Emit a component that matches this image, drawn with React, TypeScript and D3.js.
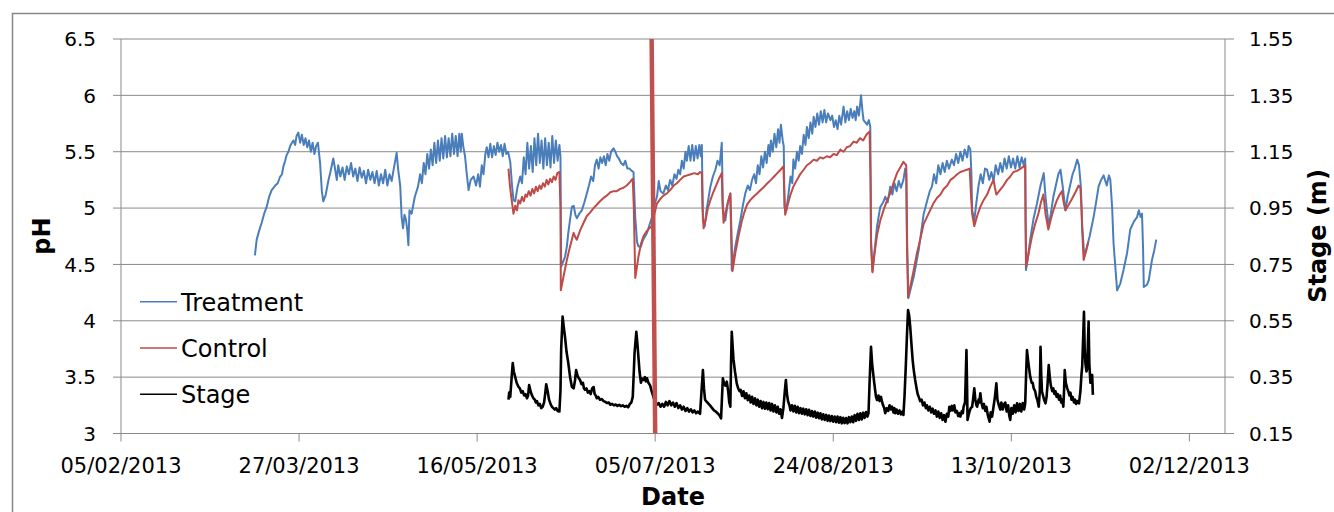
import React from 'react';
import * as d3 from 'd3';

// [day of year 2013, value]
type Pt = [number, number];

const treatment: Pt[] = [
  [73.6,4.58],[74.1,4.72],[74.8,4.8],[75.5,4.87],[76.2,4.95],[76.9,5.01],[77.6,5.1],[78.3,5.16],[79.3,5.2],[80.0,5.22],
  [80.7,5.28],[81.2,5.3],[81.6,5.37],[82.1,5.42],[82.5,5.47],[83.0,5.5],[83.5,5.55],[84.0,5.58],[84.4,5.6],[84.9,5.56],
  [85.3,5.64],[85.8,5.67],[86.3,5.58],[86.8,5.65],[87.3,5.56],[87.8,5.62],[88.3,5.54],[88.8,5.6],[89.3,5.5],[89.8,5.58],
  [90.3,5.48],[90.8,5.55],[91.3,5.58],[91.9,5.4],[92.4,5.15],[92.8,5.06],[93.5,5.12],[94.2,5.24],[94.8,5.32],[95.6,5.44],
  [96.1,5.35],[96.6,5.25],[97.0,5.38],[97.6,5.28],[98.2,5.36],[98.8,5.25],[99.4,5.37],[100.0,5.3],[100.6,5.4],[101.2,5.28],
  [101.8,5.35],[102.4,5.24],[103.0,5.36],[103.6,5.27],[104.2,5.33],[104.8,5.22],[105.4,5.34],[106.0,5.25],[106.6,5.32],[107.2,5.22],
  [107.8,5.33],[108.4,5.2],[109.0,5.3],[109.6,5.22],[110.2,5.34],[110.8,5.2],[111.4,5.3],[112.0,5.24],[112.6,5.35],[113.4,5.49],
  [113.8,5.35],[114.4,5.2],[114.8,4.92],[115.2,4.82],[115.6,4.94],[116.0,4.9],[116.4,4.8],[116.7,4.67],[117.0,4.98],[117.6,4.95],
  [118.5,5.1],[119.4,5.19],[120.0,5.3],[120.5,5.22],[121.0,5.4],[121.5,5.3],[122.0,5.48],[122.5,5.35],[123.0,5.52],[123.5,5.38],
  [124.0,5.58],[124.5,5.4],[125.0,5.6],[125.5,5.42],[126.0,5.62],[126.5,5.44],[127.0,5.64],[127.5,5.45],[128.0,5.62],[128.5,5.46],
  [129.0,5.66],[129.5,5.48],[130.0,5.64],[130.5,5.46],[131.0,5.66],[131.4,5.5],[131.7,5.66],[132.1,5.55],[132.6,5.46],[133.1,5.3],
  [133.6,5.16],[134.2,5.25],[135.0,5.28],[135.7,5.2],[136.3,5.3],[136.8,5.19],[137.3,5.38],[137.8,5.3],[138.3,5.48],[138.7,5.54],
  [139.2,5.45],[139.7,5.57],[140.2,5.45],[140.7,5.55],[141.2,5.47],[141.7,5.58],[142.2,5.5],[142.7,5.56],[143.2,5.46],[143.7,5.57],
  [144.2,5.48],[144.7,5.5],[145.3,5.41],[145.8,5.2],[146.2,5.07],[146.7,5.06],[147.3,5.18],[148.1,5.28],[148.6,5.22],[149.1,5.45],
  [149.6,5.3],[150.1,5.58],[150.6,5.35],[151.1,5.55],[151.6,5.32],[152.1,5.62],[152.6,5.38],[153.1,5.66],[153.6,5.4],[154.1,5.6],
  [154.6,5.35],[155.1,5.62],[155.6,5.38],[156.1,5.58],[156.6,5.36],[157.1,5.64],[157.6,5.4],[158.1,5.6],[158.6,5.42],[159.1,5.56],
  [159.4,5.46],[159.6,4.48],[160.1,4.52],[160.7,4.57],[161.2,4.66],[161.6,4.78],[162.1,4.9],[162.6,5.01],[163.1,5.02],[163.6,4.94],
  [164.0,4.91],[164.7,4.95],[165.4,4.98],[166.1,5.05],[166.8,5.13],[167.4,5.2],[168.0,5.28],[168.6,5.24],[169.1,5.38],[169.6,5.43],
  [170.1,5.35],[170.6,5.45],[171.1,5.4],[171.6,5.46],[172.1,5.38],[172.6,5.48],[173.1,5.42],[173.6,5.5],[174.3,5.53],[174.8,5.5],
  [175.3,5.46],[175.8,5.44],[176.4,5.4],[177.1,5.38],[177.6,5.42],[178.2,5.35],[178.8,5.35],[179.4,5.33],[179.9,5.32],[180.4,4.92],
  [180.9,4.7],[181.3,4.66],[182.0,4.66],[182.6,4.72],[183.2,4.75],[183.7,4.78],[184.4,4.85],[185.1,4.92],[186.0,5.05],[186.5,5.1],
  [187.0,5.24],[187.5,5.15],[188.3,5.13],[189.0,5.2],[189.6,5.16],[190.2,5.25],[190.8,5.2],[191.4,5.3],[192.0,5.26],[192.5,5.34],
  [193.0,5.3],[193.5,5.42],[194.0,5.35],[194.5,5.5],[194.9,5.42],[195.4,5.55],[195.9,5.42],[196.4,5.56],[196.9,5.42],[197.4,5.55],
  [197.9,5.44],[198.4,5.56],[198.8,5.46],[199.1,5.56],[199.4,4.89],[199.9,4.84],[200.5,5.0],[201.5,5.19],[202.2,5.28],[202.9,5.34],
  [203.5,5.42],[204.1,5.38],[204.7,5.58],[205.0,5.01],[205.4,4.92],[205.7,4.89],[206.4,5.05],[207.1,5.13],[207.3,4.8],[207.5,4.45],
  [208.0,4.55],[208.5,4.66],[209.2,4.78],[209.9,4.89],[210.6,5.02],[211.3,5.13],[212.0,5.2],[212.6,5.16],[213.2,5.25],[213.8,5.3],
  [214.3,5.22],[214.8,5.38],[215.3,5.3],[215.8,5.46],[216.3,5.36],[216.8,5.5],[217.3,5.4],[217.8,5.56],[218.2,5.46],[218.5,5.6],
  [219.0,5.5],[219.5,5.66],[220.0,5.54],[220.5,5.7],[220.9,5.58],[221.3,5.74],[221.8,5.6],[222.1,5.55],[222.3,5.01],[222.8,4.98],
  [223.4,5.12],[224.0,5.28],[224.5,5.22],[224.8,5.43],[225.3,5.35],[225.8,5.5],[226.3,5.42],[226.7,5.55],[227.2,5.48],[227.7,5.65],
  [228.2,5.56],[228.6,5.72],[229.1,5.62],[229.6,5.76],[230.1,5.66],[230.5,5.81],[231.0,5.72],[231.5,5.84],[232.0,5.74],[232.5,5.86],
  [233.0,5.76],[233.5,5.87],[234.0,5.76],[234.5,5.84],[235.2,5.78],[235.7,5.82],[236.2,5.72],[236.7,5.78],[237.2,5.7],[237.7,5.82],
  [238.2,5.74],[238.9,5.9],[239.4,5.76],[239.9,5.86],[240.4,5.78],[240.9,5.88],[241.4,5.8],[241.9,5.86],[242.3,5.78],[242.7,5.9],
  [243.2,5.82],[243.8,6.0],[244.2,5.86],[244.5,5.78],[245.0,5.76],[245.5,5.74],[246.0,5.78],[246.4,5.72],[246.6,4.72],[247.0,4.44],
  [247.6,4.62],[248.3,4.84],[249.2,5.01],[250.0,5.05],[250.6,5.1],[251.3,5.05],[252.0,5.19],[252.6,5.12],[253.2,5.22],[253.8,5.15],
  [254.4,5.24],[255.0,5.18],[255.7,5.25],[256.2,5.35],[256.5,5.3],[256.7,4.66],[257.1,4.2],[257.7,4.28],[258.6,4.39],[260.0,4.63],
  [261.4,4.95],[262.5,5.08],[263.1,5.15],[263.7,5.19],[264.3,5.3],[264.9,5.22],[265.5,5.38],[266.1,5.3],[266.7,5.4],[267.3,5.32],
  [267.9,5.42],[268.5,5.35],[269.3,5.43],[269.9,5.38],[270.5,5.48],[271.1,5.4],[271.7,5.5],[272.3,5.42],[272.9,5.52],[273.6,5.45],
  [274.0,5.55],[274.5,5.52],[274.8,5.3],[275.0,4.98],[275.6,4.89],[276.2,5.05],[276.8,5.2],[277.4,5.3],[278.0,5.22],[278.6,5.35],
  [279.2,5.34],[279.8,5.25],[280.4,5.32],[281.0,5.24],[281.6,5.38],[282.3,5.3],[282.9,5.4],[283.5,5.32],[284.1,5.44],[284.7,5.35],
  [285.3,5.46],[285.9,5.36],[286.5,5.44],[287.1,5.35],[287.7,5.46],[288.3,5.36],[288.9,5.45],[289.5,5.38],[289.9,5.44],[290.1,4.45],
  [290.6,4.55],[291.3,4.72],[292.2,4.9],[293.2,5.04],[294.2,5.2],[295.1,5.31],[295.6,5.1],[296.5,4.84],[297.1,4.95],[297.8,5.1],
  [298.5,5.2],[299.2,5.3],[299.8,5.34],[300.4,5.2],[301.2,4.98],[301.8,5.1],[302.5,5.2],[303.2,5.3],[303.8,5.35],[304.5,5.43],
  [305.0,5.38],[305.5,5.2],[305.9,4.84],[306.5,4.57],[307.2,4.65],[308.0,4.75],[309.1,4.92],[309.8,5.05],[310.5,5.19],[311.2,5.25],
  [311.9,5.29],[312.8,5.2],[313.4,5.29],[313.8,5.25],[314.3,5.01],[314.7,4.69],[315.2,4.48],[315.7,4.27],[316.6,4.33],[317.5,4.45],
  [318.5,4.6],[319.4,4.81],[320.4,4.88],[321.3,4.92],[321.8,4.98],[322.3,4.92],[322.7,4.95],[323.0,4.63],[323.2,4.3],[324.1,4.32],
  [324.6,4.36],[325.5,4.54],[326.1,4.62],[326.7,4.72],
];

const control: Pt[] = [
  [144.8,5.35],[145.2,5.2],[145.7,5.07],[146.2,4.95],[146.7,5.02],[147.2,4.98],[147.6,5.07],[148.1,5.04],[148.6,5.1],[149.1,5.06],
  [149.6,5.12],[150.0,5.1],[150.5,5.15],[151.0,5.11],[151.5,5.17],[152.0,5.13],[152.5,5.19],[153.0,5.15],[153.5,5.2],[154.0,5.17],
  [154.5,5.22],[155.0,5.19],[155.5,5.25],[156.0,5.21],[156.5,5.26],[157.0,5.23],[157.5,5.28],[158.0,5.25],[158.5,5.31],[159.1,5.32],
  [159.4,5.0],[159.5,4.27],[160.3,4.4],[161.2,4.54],[162.1,4.66],[163.1,4.78],[163.6,4.74],[164.0,4.72],[164.9,4.8],[165.9,4.87],
  [166.8,4.93],[167.7,4.96],[168.7,5.0],[169.6,5.03],[170.5,5.06],[171.5,5.09],[172.4,5.11],[173.4,5.14],[174.3,5.15],[175.2,5.15],
  [176.2,5.17],[177.1,5.18],[178.0,5.2],[178.9,5.23],[179.7,5.26],[180.0,5.0],[180.4,4.38],[180.8,4.46],[181.3,4.57],[182.0,4.68],
  [182.7,4.75],[183.5,4.79],[184.3,4.82],[185.1,4.84],[185.8,4.95],[186.5,5.04],[187.4,5.08],[188.3,5.11],[189.3,5.13],[190.2,5.16],
  [191.2,5.2],[192.1,5.22],[193.0,5.25],[194.0,5.28],[195.0,5.29],[196.0,5.3],[197.0,5.31],[198.0,5.3],[198.6,5.32],[199.1,5.31],
  [199.3,5.0],[199.6,4.82],[200.2,4.9],[200.8,5.0],[201.5,5.07],[202.3,5.14],[203.1,5.2],[203.9,5.26],[204.7,5.31],[204.9,5.05],
  [205.2,4.87],[205.9,4.98],[206.5,5.06],[207.1,5.13],[207.4,4.8],[207.7,4.44],[208.5,4.6],[209.4,4.75],[210.3,4.88],[211.0,4.96],
  [211.8,5.03],[212.7,5.07],[213.6,5.1],[214.6,5.13],[215.6,5.16],[216.6,5.19],[217.5,5.22],[218.5,5.25],[219.4,5.28],[220.3,5.31],
  [221.2,5.34],[222.0,5.37],[222.3,5.1],[222.5,4.94],[223.3,5.04],[224.0,5.12],[224.8,5.19],[225.8,5.25],[226.7,5.3],[227.7,5.34],
  [228.6,5.38],[229.5,5.4],[230.5,5.43],[231.4,5.42],[232.3,5.45],[233.2,5.44],[234.2,5.46],[235.1,5.45],[236.1,5.48],[237.0,5.47],
  [238.0,5.52],[238.9,5.5],[239.8,5.54],[240.7,5.55],[241.7,5.59],[242.6,5.58],[243.5,5.62],[244.4,5.6],[245.3,5.65],[246.2,5.68],
  [246.5,5.2],[246.6,4.69],[247.0,4.43],[247.6,4.6],[248.3,4.76],[249.2,4.89],[250.1,4.98],[251.0,5.06],[252.0,5.13],[252.9,5.22],
  [253.9,5.31],[254.8,5.36],[255.7,5.41],[256.5,5.38],[256.7,4.8],[257.0,4.21],[257.8,4.33],[258.6,4.45],[259.5,4.6],[260.4,4.72],
  [261.4,4.86],[262.3,4.92],[263.2,4.98],[264.1,5.04],[265.1,5.09],[266.1,5.12],[267.0,5.17],[268.0,5.2],[268.9,5.25],[269.8,5.27],
  [270.8,5.3],[271.7,5.32],[272.6,5.33],[273.5,5.34],[274.3,5.35],[274.7,5.1],[275.0,4.95],[275.6,4.84],[276.4,4.93],[277.3,5.01],
  [278.2,5.07],[279.2,5.12],[280.1,5.19],[281.0,5.25],[281.4,5.18],[281.8,5.12],[282.8,5.16],[283.8,5.2],[284.8,5.25],[285.7,5.28],
  [286.6,5.32],[287.6,5.33],[288.6,5.35],[289.5,5.37],[289.9,5.38],[290.0,4.9],[290.2,4.48],[291.0,4.62],[291.8,4.75],[292.7,4.86],
  [293.6,4.95],[294.3,5.05],[295.0,5.12],[295.6,4.95],[296.4,4.81],[297.1,4.9],[297.8,4.98],[298.8,5.07],[299.6,5.12],[300.2,5.15],
  [300.7,5.05],[301.2,4.98],[302.1,5.03],[303.0,5.08],[304.0,5.14],[304.9,5.2],[305.4,5.18],[305.7,5.0],[305.9,4.81],[306.3,4.54],
  [307.0,4.62],[307.6,4.7],
];

const stage: Pt[] = [
  [144.8,0.27],[145.0,0.295],[145.3,0.28],[145.7,0.35],[146.0,0.4],[146.3,0.37],[146.7,0.35],[147.1,0.33],[147.6,0.316],[148.0,0.31],
  [148.4,0.295],[148.8,0.3],[149.2,0.285],[149.6,0.29],[150.0,0.275],[150.3,0.285],[150.6,0.322],[151.0,0.3],[151.4,0.285],[151.8,0.275],
  [152.2,0.27],[152.5,0.26],[152.8,0.265],[153.2,0.25],[153.6,0.255],[154.0,0.24],[154.4,0.245],[154.8,0.26],[155.1,0.29],[155.4,0.325],
  [155.8,0.3],[156.2,0.27],[156.6,0.255],[157.0,0.245],[157.4,0.24],[157.8,0.235],[158.2,0.24],[158.6,0.23],[159.1,0.228],[159.4,0.3],
  [159.6,0.45],[160.0,0.565],[160.4,0.52],[160.7,0.49],[161.1,0.44],[161.6,0.4],[162.1,0.35],[162.6,0.316],[163.1,0.31],[163.5,0.34],
  [163.8,0.375],[164.2,0.355],[164.6,0.345],[164.9,0.34],[165.3,0.325],[165.7,0.33],[166.0,0.31],[166.3,0.305],[166.7,0.31],[167.1,0.295],
  [167.5,0.3],[167.9,0.29],[168.3,0.31],[168.7,0.315],[169.0,0.29],[169.3,0.285],[169.6,0.275],[170.0,0.28],[170.5,0.27],[171.0,0.272],
  [171.5,0.265],[172.0,0.262],[172.5,0.258],[173.0,0.26],[173.4,0.252],[173.9,0.255],[174.4,0.25],[174.9,0.253],[175.4,0.248],[175.9,0.252],
  [176.4,0.247],[176.9,0.25],[177.4,0.245],[177.9,0.248],[178.4,0.243],[178.9,0.255],[179.3,0.26],[179.7,0.28],[180.0,0.37],[180.2,0.435],
  [180.7,0.511],[181.0,0.47],[181.3,0.42],[181.6,0.37],[182.0,0.33],[182.3,0.345],[182.7,0.34],[183.1,0.35],[183.4,0.335],[183.7,0.346],
  [184.1,0.33],[184.6,0.32],[185.0,0.3],[185.5,0.28],[186.0,0.26],[186.5,0.252],[187.0,0.258],[187.5,0.245],[188.0,0.255],[188.5,0.245],
  [189.0,0.262],[189.5,0.25],[190.0,0.265],[190.5,0.25],[191.0,0.26],[191.5,0.245],[192.0,0.258],[192.5,0.24],[193.0,0.25],[193.5,0.235],
  [194.0,0.245],[194.5,0.23],[195.0,0.24],[195.5,0.228],[196.0,0.236],[196.5,0.225],[197.0,0.232],[197.5,0.222],[198.0,0.228],[198.6,0.22],
  [199.0,0.3],[199.4,0.375],[199.7,0.31],[200.0,0.27],[200.5,0.262],[201.0,0.255],[201.5,0.248],[202.0,0.24],[202.5,0.232],[203.0,0.228],
  [203.5,0.222],[204.0,0.215],[204.5,0.204],[204.8,0.29],[205.0,0.346],[205.3,0.33],[205.7,0.32],[206.1,0.334],[206.5,0.3],[206.8,0.26],
  [207.1,0.245],[207.3,0.4],[207.5,0.511],[207.8,0.45],[208.0,0.411],[208.4,0.37],[208.9,0.328],[209.3,0.31],[209.7,0.3],[210.0,0.305],
  [210.4,0.283],[210.8,0.3],[211.2,0.275],[211.6,0.293],[212.0,0.268],[212.4,0.285],[212.8,0.26],[213.2,0.28],[213.6,0.255],[214.0,0.275],
  [214.4,0.25],[214.8,0.27],[215.2,0.245],[215.6,0.265],[216.0,0.24],[216.4,0.262],[216.8,0.238],[217.2,0.26],[217.6,0.236],[218.0,0.258],
  [218.4,0.232],[218.8,0.255],[219.2,0.228],[219.6,0.25],[220.0,0.225],[220.4,0.245],[220.8,0.22],[221.2,0.236],[221.6,0.205],[222.0,0.24],
  [222.4,0.3],[222.7,0.34],[223.0,0.29],[223.3,0.265],[223.7,0.25],[224.0,0.232],[224.4,0.25],[224.8,0.228],[225.2,0.248],[225.6,0.225],
  [226.0,0.245],[226.4,0.222],[226.8,0.24],[227.2,0.22],[227.6,0.238],[228.0,0.218],[228.4,0.236],[228.8,0.215],[229.2,0.234],[229.6,0.212],
  [230.0,0.23],[230.4,0.21],[230.8,0.228],[231.2,0.206],[231.6,0.224],[232.0,0.204],[232.4,0.222],[232.8,0.2],[233.2,0.218],[233.6,0.198],
  [234.0,0.216],[234.4,0.195],[234.8,0.214],[235.2,0.194],[235.6,0.212],[236.0,0.192],[236.4,0.21],[236.8,0.19],[237.2,0.21],[237.6,0.188],
  [238.0,0.208],[238.4,0.186],[238.8,0.206],[239.2,0.187],[239.6,0.205],[240.0,0.186],[240.4,0.208],[240.8,0.19],[241.2,0.21],[241.6,0.19],
  [242.0,0.215],[242.4,0.195],[242.8,0.22],[243.2,0.198],[243.6,0.222],[244.0,0.2],[244.4,0.224],[244.8,0.205],[245.2,0.226],[245.6,0.21],
  [245.9,0.222],[246.2,0.33],[246.6,0.458],[246.9,0.4],[247.3,0.352],[247.7,0.31],[248.0,0.28],[248.3,0.269],[248.7,0.285],[249.0,0.265],
  [249.4,0.28],[249.7,0.262],[250.0,0.25],[250.3,0.24],[250.6,0.222],[251.0,0.24],[251.4,0.23],[251.8,0.25],[252.1,0.235],[252.5,0.245],
  [252.9,0.225],[253.2,0.24],[253.4,0.222],[253.8,0.235],[254.2,0.22],[254.6,0.232],[255.0,0.218],[255.4,0.228],[255.7,0.216],[256.0,0.28],
  [256.4,0.399],[256.7,0.5],[257.0,0.588],[257.3,0.57],[257.6,0.53],[258.0,0.46],[258.3,0.41],[258.6,0.375],[259.0,0.34],[259.4,0.31],
  [259.7,0.29],[260.0,0.28],[260.4,0.265],[260.8,0.27],[261.2,0.25],[261.6,0.26],[262.0,0.24],[262.3,0.25],[262.7,0.232],[263.1,0.245],
  [263.5,0.225],[263.9,0.238],[264.3,0.22],[264.7,0.232],[265.1,0.21],[265.5,0.228],[265.9,0.205],[266.3,0.222],[266.7,0.198],[267.1,0.215],
  [267.5,0.192],[267.9,0.22],[268.3,0.21],[268.6,0.245],[268.9,0.23],[269.3,0.248],[269.6,0.232],[270.0,0.25],[270.3,0.225],[270.7,0.23],
  [271.1,0.212],[271.4,0.222],[271.7,0.21],[272.1,0.23],[272.4,0.222],[272.6,0.245],[273.0,0.26],[273.2,0.35],[273.4,0.446],[273.6,0.3],
  [273.7,0.198],[274.0,0.215],[274.3,0.23],[274.6,0.24],[275.0,0.245],[275.3,0.275],[275.6,0.31],[275.9,0.27],[276.2,0.25],[276.4,0.245],
  [276.8,0.27],[277.0,0.26],[277.3,0.293],[277.6,0.26],[278.0,0.24],[278.3,0.255],[278.7,0.23],[279.0,0.245],[279.4,0.215],[279.9,0.192],
  [280.2,0.225],[280.6,0.21],[281.0,0.245],[281.4,0.28],[281.8,0.328],[282.1,0.27],[282.5,0.25],[282.9,0.235],[283.2,0.26],[283.6,0.235],
  [284.0,0.255],[284.3,0.26],[284.7,0.228],[285.1,0.25],[285.4,0.215],[285.7,0.198],[286.0,0.24],[286.4,0.22],[286.8,0.25],[287.2,0.225],
  [287.6,0.257],[288.0,0.23],[288.4,0.255],[288.8,0.228],[289.2,0.258],[289.6,0.235],[289.9,0.257],[290.2,0.38],[290.4,0.446],[290.7,0.41],
  [291.0,0.38],[291.3,0.352],[291.7,0.33],[292.0,0.33],[292.3,0.31],[292.7,0.3],[293.0,0.28],[293.3,0.27],[293.7,0.245],[294.0,0.3],
  [294.2,0.458],[294.4,0.36],[294.6,0.3],[294.9,0.285],[295.2,0.27],[295.6,0.257],[295.9,0.28],[296.2,0.33],[296.5,0.393],[296.8,0.35],
  [297.1,0.32],[297.5,0.3],[297.8,0.31],[298.1,0.29],[298.4,0.3],[298.7,0.28],[299.0,0.29],[299.4,0.27],[299.7,0.285],[300.0,0.26],
  [300.3,0.27],[300.6,0.245],[300.8,0.3],[301.0,0.375],[301.3,0.33],[301.7,0.31],[302.0,0.3],[302.3,0.285],[302.6,0.295],[302.9,0.27],
  [303.2,0.28],[303.6,0.26],[303.9,0.27],[304.2,0.255],[304.6,0.265],[305.0,0.257],[305.4,0.3],[305.7,0.36],[305.9,0.387],[306.2,0.5],
  [306.4,0.582],[306.6,0.45],[306.8,0.4],[307.1,0.37],[307.3,0.38],[307.5,0.47],[307.7,0.547],[307.9,0.4],[308.2,0.33],[308.5,0.35],
  [308.7,0.358],[308.9,0.287],
];

// vertical red marker line
const marker: Pt[] = [[185.0, 6.5], [186.0, 3.0]];

const xTickDates = ['2013-02-05', '2013-03-27', '2013-05-16', '2013-07-05', '2013-08-24', '2013-10-13', '2013-12-02'];
const xDomainDates = ['2013-02-05', '2013-12-12'];
const phTicks = [3, 3.5, 4, 4.5, 5, 5.5, 6, 6.5];
const stageTicks = [0.15, 0.35, 0.55, 0.75, 0.95, 1.15, 1.35, 1.55];

const legendItems = [
  { name: 'Treatment', color: '#4a7ebb' },
  { name: 'Control', color: '#be4b48' },
  { name: 'Stage', color: '#000000' },
];

const W = 1334;
const H = 512;
const plot = { left: 121, right: 1225, top: 39, bottom: 433.5 };
const FONT = '"DejaVu Sans", sans-serif';
const GRID = '#8a8a8a';

const parse = d3.timeParse('%Y-%m-%d');
const fmt = d3.timeFormat('%d/%m/%Y');
const dayToDate = (d: number) => {
  const day = Math.floor(d);
  return new Date(2013, 0, day, 0, Math.round((d - day) * 1440));
};

export default function App() {
  const x = d3.scaleTime()
    .domain(xDomainDates.map(s => parse(s) as Date))
    .range([plot.left, plot.right]);
  const yPh = d3.scaleLinear().domain([3, 6.5]).range([plot.bottom, plot.top]);
  const yStage = d3.scaleLinear().domain([0.15, 1.55]).range([plot.bottom, plot.top]);

  const phLine = d3.line<Pt>().x(d => x(dayToDate(d[0]))).y(d => yPh(d[1]));
  const stageLine = d3.line<Pt>().x(d => x(dayToDate(d[0]))).y(d => yStage(d[1]));

  const legendY = d3.scalePoint<string>()
    .domain(legendItems.map(d => d.name))
    .range([301.7, 394.3]);

  return (
    <svg
      width={W}
      height={H}
      viewBox={`0 0 ${W} ${H}`}
      style={{ position: 'absolute', left: 0, top: 0, background: '#fff', fontFamily: FONT }}
    >
      <rect x={0} y={0} width={W} height={H} fill="#fff" />
      {/* chart border */}
      <rect x={12.5} y={13.5} width={W + 40} height={H + 40} fill="none" stroke="#868686" strokeWidth={1.5} />

      {/* gridlines */}
      {phTicks.map(t => (
        <line key={`g${t}`} x1={113} x2={1234} y1={yPh(t)} y2={yPh(t)} stroke={GRID} strokeWidth={1} />
      ))}
      {/* axis lines */}
      <line x1={plot.left} x2={plot.left} y1={plot.top} y2={plot.bottom} stroke={GRID} strokeWidth={1} />
      <line x1={plot.right} x2={plot.right} y1={plot.top} y2={plot.bottom} stroke={GRID} strokeWidth={1} />

      {/* x ticks */}
      {xTickDates.map(s => {
        const px = x(parse(s) as Date);
        return (
          <g key={s}>
            <line x1={px} x2={px} y1={plot.bottom} y2={441.5} stroke={GRID} strokeWidth={1} />
            <text x={px} y={473} textAnchor="middle" fontSize={21} fill="#000">{fmt(parse(s) as Date)}</text>
          </g>
        );
      })}

      {/* left ticks */}
      {phTicks.map(t => (
        <text key={`l${t}`} x={96} y={yPh(t)} dy="0.36em" textAnchor="end" fontSize={20} fill="#000">
          {d3.format('')(t)}
        </text>
      ))}
      {/* right ticks */}
      {stageTicks.map(t => (
        <text key={`r${t}`} x={1249} y={yStage(t)} dy="0.36em" textAnchor="start" fontSize={20} fill="#000">
          {t.toFixed(2)}
        </text>
      ))}

      {/* series */}
      <path d={phLine(treatment) ?? ''} fill="none" stroke="#4a7ebb" strokeWidth={2} strokeLinejoin="round" />
      <path d={phLine(control) ?? ''} fill="none" stroke="#be4b48" strokeWidth={2} strokeLinejoin="round" />
      <path d={stageLine(stage) ?? ''} fill="none" stroke="#000" strokeWidth={2.6} strokeLinejoin="round" />
      <path d={phLine(marker) ?? ''} fill="none" stroke="#c0504d" strokeWidth={4.5} />

      {/* legend */}
      {legendItems.map(item => {
        const ly = legendY(item.name) ?? 0;
        return (
          <g key={item.name}>
            <line x1={140} x2={177} y1={ly} y2={ly} stroke={item.color} strokeWidth={1.5} />
            <text x={181} y={ly + 9} fontSize={24} fill="#000">{item.name}</text>
          </g>
        );
      })}

      {/* axis titles */}
      <text transform="translate(50,236) rotate(-90)" textAnchor="middle" fontSize={24} fontWeight="bold" fill="#000">pH</text>
      <text transform="translate(1326,236) rotate(-90)" textAnchor="middle" fontSize={24} fontWeight="bold" fill="#000">Stage (m)</text>
      <text x={673} y={505} textAnchor="middle" fontSize={24} fontWeight="bold" fill="#000">Date</text>
    </svg>
  );
}
